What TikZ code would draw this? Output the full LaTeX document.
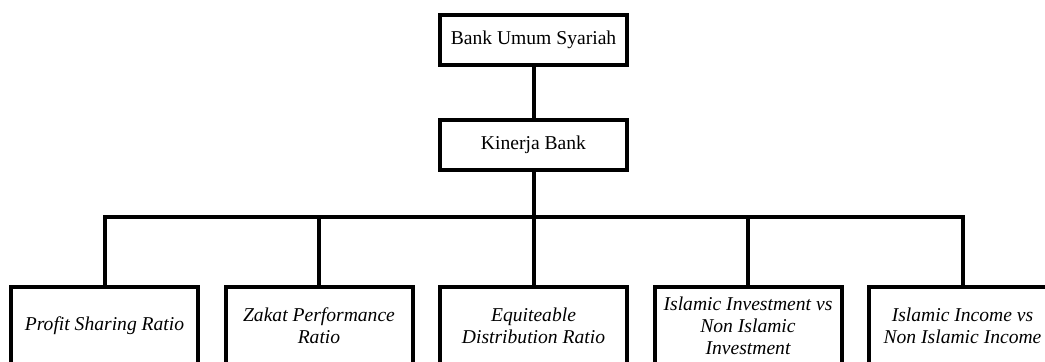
\documentclass[tikz,border=0pt]{standalone}
\usepackage{fontspec}
\setmainfont{Liberation Serif}
\tikzset{
  box/.style={draw, line width=2pt, minimum width=93.5pt, align=center, inner sep=1pt, font=\fontsize{9.8}{11}\selectfont},
  topbox/.style={box, minimum height=25pt},
  subbox/.style={box, minimum height=39pt, font=\fontsize{9.8}{11}\selectfont\itshape},
  link/.style={line width=2pt}
}
\begin{document}
\begin{tikzpicture}[x=0.5pt, y=-0.5pt]
\useasboundingbox (0,0) rectangle (1045,361);
\node[topbox] (bus) at (533.5,40) {Bank Umum Syariah};
\node[topbox] (kinerja) at (533.5,145) {Kinerja Bank};
\node[subbox] (psr) at (104.5,326) {Profit Sharing Ratio};
\node[subbox] (zpr) at (319,326) {Zakat Performance\\Ratio};
\node[subbox] (edr) at (533.5,326) {Equiteable\\Distribution Ratio};
\node[subbox] (iinv) at (748,326) {Islamic Investment vs\\Non Islamic\\Investment};
\node[subbox] (iinc) at (962.5,326) {Islamic Income vs\\Non Islamic Income};
\coordinate (rail) at (533.5,217);
\draw[link] (bus) -- (kinerja);
\draw[link] (kinerja) -- (edr);
\draw[link] (psr.north) -- (psr.north |- rail) -- (iinc.north |- rail) -- (iinc.north);
\foreach \n in {zpr,iinv}
  \draw[link] (\n.north) -- (\n.north |- rail);
\end{tikzpicture}
\end{document}
